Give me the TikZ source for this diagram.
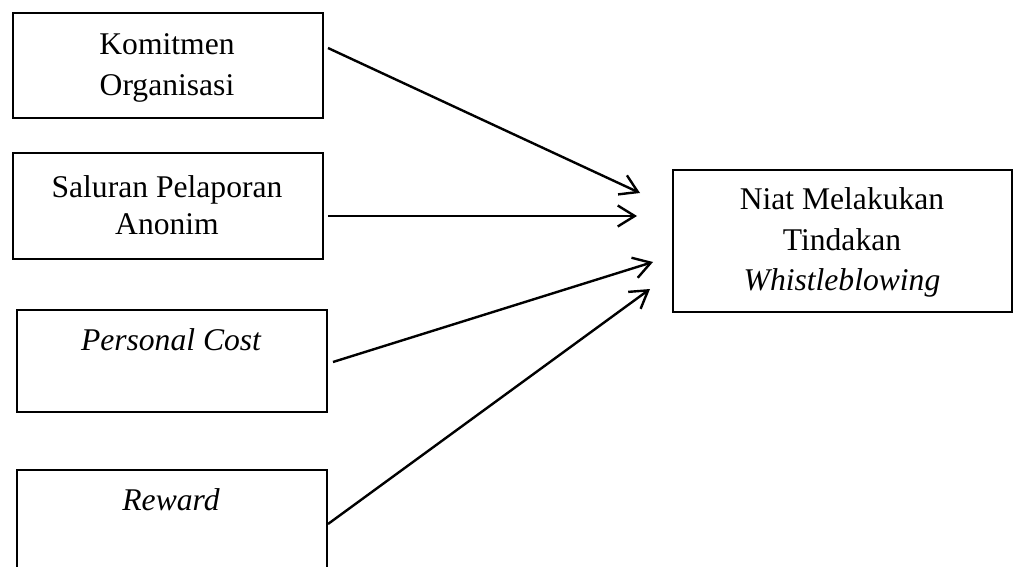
\documentclass[tikz,border=0pt]{standalone}
\usepackage{fontspec}
\setmainfont{Liberation Serif}
\usetikzlibrary{arrows.meta}
\begin{document}
\begin{tikzpicture}[x=1pt,y=-1pt,
  box/.style={draw, line width=2pt, inner sep=0pt, anchor=north west},
  lbl/.style={inner sep=0pt, anchor=base, font=\fontsize{31.6}{40}\selectfont},
  arr/.style={line width=2.4pt, -{Straight Barb[length=17pt,width=21pt,line width=2.4pt]}}]
\useasboundingbox (0,0) rectangle (1013,567);
% boxes
\node[box, minimum width=310pt, minimum height=105pt] (b1) at (12,12) {};
\node[box, minimum width=310pt, minimum height=106pt] (b2) at (12,152) {};
\node[box, minimum width=310pt, minimum height=102pt] (b3) at (16,309) {};
\node[box, minimum width=310pt, minimum height=131pt] (b4) at (16,469) {};
\node[box, minimum width=339pt, minimum height=142pt] (b5) at (672,169) {};
% labels
\node[lbl] (k1) at (167,55) {Komitmen};
\node[lbl] (k2) at (167,96) {Organisasi};
\node[lbl] (s1) at (167,198) {Saluran Pelaporan};
\node[lbl] (s2) at (167,234) {Anonim};
\node[lbl] (p1) at (171,350) {\itshape Personal Cost};
\node[lbl] (r1) at (171,510) {\itshape Reward};
\node[lbl] (n1) at (842,210) {Niat Melakukan};
\node[lbl] (n2) at (842,251) {Tindakan};
\node[lbl] (n3) at (842,290) {\itshape Whistleblowing};
% arrows
\draw[arr] ([shift={(4,36)}]b1.north east) -- ([shift={(-32,24)}]b5.north west);
\draw[arr] ([shift={(4,64)}]b2.north east) -- ([shift={(-35,47)}]b5.north west);
\draw[arr] ([shift={(5,53)}]b3.north east) -- ([shift={(-19,93)}]b5.north west);
\draw[arr] ([shift={(0,55)}]b4.north east) -- ([shift={(-22,120)}]b5.north west);
\end{tikzpicture}
\end{document}
